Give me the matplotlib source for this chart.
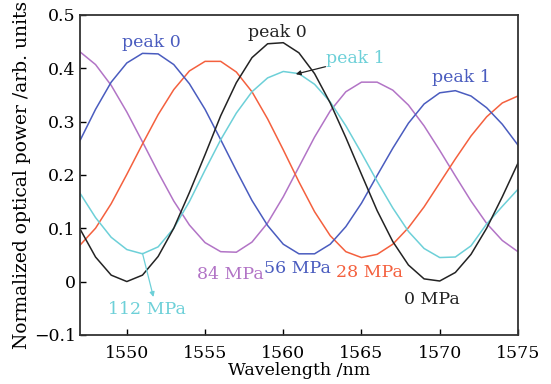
import matplotlib
matplotlib.use("Agg")
import matplotlib.pyplot as plt

# wavelength grid (nm)
wavelength = list(range(1547, 1576))

# normalized optical power, one list per stress level
p_0mpa = [0.099, 0.046, 0.012, 0.000, 0.012, 0.047, 0.100, 0.167, 0.238, 0.311,
          0.373, 0.420, 0.446, 0.448, 0.429, 0.390, 0.335, 0.270, 0.201, 0.133,
          0.075, 0.031, 0.005, 0.001, 0.017, 0.051, 0.100, 0.159, 0.222]
p_28mpa = [0.068, 0.100, 0.146, 0.201, 0.258, 0.313, 0.360, 0.395, 0.413, 0.413,
           0.393, 0.356, 0.305, 0.247, 0.187, 0.131, 0.086, 0.056, 0.045, 0.051,
           0.070, 0.101, 0.140, 0.185, 0.230, 0.273, 0.309, 0.335, 0.348]
p_56mpa = [0.264, 0.323, 0.374, 0.410, 0.428, 0.427, 0.407, 0.371, 0.323, 0.266,
           0.208, 0.152, 0.105, 0.070, 0.052, 0.052, 0.070, 0.103, 0.147, 0.199,
           0.250, 0.297, 0.333, 0.354, 0.358, 0.348, 0.326, 0.295, 0.256]
p_84mpa = [0.431, 0.407, 0.368, 0.318, 0.262, 0.205, 0.151, 0.106, 0.073, 0.056,
           0.055, 0.074, 0.110, 0.159, 0.215, 0.271, 0.320, 0.356, 0.374, 0.374,
           0.359, 0.331, 0.292, 0.246, 0.198, 0.151, 0.109, 0.077, 0.056]
p_112mpa = [0.166, 0.120, 0.083, 0.060, 0.052, 0.065, 0.100, 0.150, 0.209, 0.266,
            0.316, 0.356, 0.382, 0.394, 0.390, 0.370, 0.337, 0.292, 0.241, 0.188,
            0.138, 0.094, 0.062, 0.045, 0.046, 0.067, 0.108, 0.141, 0.173]

x_ticks = [1550, 1555, 1560, 1565, 1570, 1575]
y_ticks = [-0.1, 0, 0.1, 0.2, 0.3, 0.4, 0.5]
y_tick_labels = ['\u22120.1', '0', '0.1', '0.2', '0.3', '0.4', '0.5']

black = '#232323'
red = '#f4603e'
blue = '#4a5cbf'
purple = '#b274c6'
cyan = '#6dd0d8'

plt.rcParams['font.family'] = ['DejaVu Serif']
plt.rcParams['font.size'] = 12.5

fig = plt.figure(figsize=(5.51, 3.84), dpi=100)
ax = fig.add_axes([0.145, 0.128, 0.795, 0.833])

ax.plot(wavelength, p_84mpa, color=purple, lw=1.1)
ax.plot(wavelength, p_28mpa, color=red, lw=1.1)
ax.plot(wavelength, p_56mpa, color=blue, lw=1.1)
ax.plot(wavelength, p_112mpa, color=cyan, lw=1.1)
ax.plot(wavelength, p_0mpa, color=black, lw=1.1)

ax.set_xlim(1547, 1575)
ax.set_ylim(-0.1, 0.5)
ax.set_xticks(x_ticks)
ax.set_yticks(y_ticks)
ax.set_yticklabels(y_tick_labels)
ax.tick_params(direction='in', length=4.5, width=1, top=False, right=False)
ax.tick_params(axis='y', pad=3)
ax.tick_params(axis='x', pad=7)
for s in ax.spines.values():
    s.set_linewidth(1.3)
    s.set_color('#333333')

ax.set_xlabel('Wavelength /nm', labelpad=0)
ax.set_ylabel('Normalized optical power /arb. units', labelpad=2, fontsize=13.5)

# peak labels
ax.text(1551.6, 0.449, 'peak 0', color=blue, ha='center', va='center')
ax.text(1559.6, 0.468, 'peak 0', color=black, ha='center', va='center')
ax.text(1564.6, 0.418, 'peak 1', color=cyan, ha='center', va='center')
ax.text(1571.4, 0.383, 'peak 1', color=blue, ha='center', va='center')
ax.annotate('', xy=(1560.8, 0.389), xytext=(1562.7, 0.403),
            arrowprops=dict(arrowstyle='-|>', color=black, lw=0.9,
                            mutation_scale=7, shrinkA=0, shrinkB=0))

# stress labels
ax.text(1556.6, 0.013, '84 MPa', color=purple, ha='center', va='center')
ax.text(1560.9, 0.024, '56 MPa', color=blue, ha='center', va='center')
ax.text(1565.5, 0.017, '28 MPa', color=red, ha='center', va='center')
ax.text(1569.5, -0.033, '0 MPa', color=black, ha='center', va='center')
ax.text(1551.3, -0.053, '112 MPa', color=cyan, ha='center', va='center')
ax.annotate('', xy=(1551.7, -0.029), xytext=(1551.0, 0.053),
            arrowprops=dict(arrowstyle='-|>', color=cyan, lw=0.9,
                            mutation_scale=7, shrinkA=0, shrinkB=0))

fig.savefig('out.png', dpi=100)
